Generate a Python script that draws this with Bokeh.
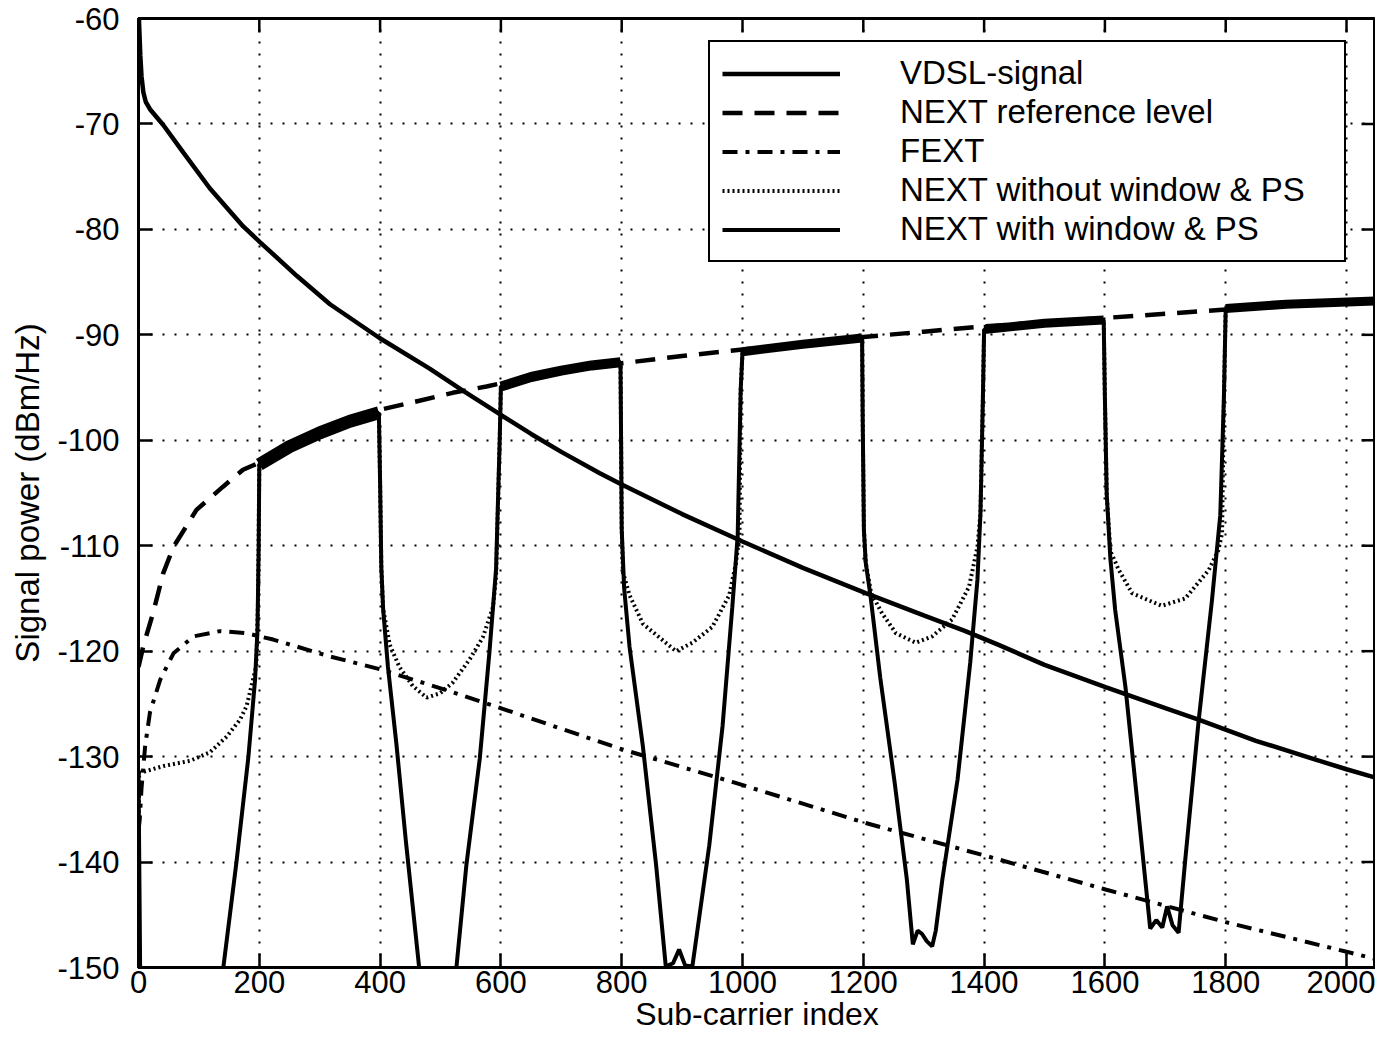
import math
from bokeh.plotting import figure
from bokeh.models import Range1d, FixedTicker, Legend, LegendItem
from bokeh.embed import file_html
from bokeh.resources import INLINE

# ---------------- data ----------------
subcarrier_ticks = list(range(0, 2001, 200))
power_ticks = list(range(-150, -59, 10))

vdsl_idx = [0, 1, 3, 5, 8, 12, 19, 41, 74, 118, 173, 201, 262, 317, 399, 482, 537, 600,
            650, 700, 763, 800, 900, 1000, 1100, 1204, 1300, 1369, 1424, 1500, 1601,
            1700, 1755, 1850, 1950, 2000, 2048]
vdsl_dbm = [-58.0, -60.5, -63.5, -65.5, -67.0, -67.9, -68.6, -70.1, -72.7, -76.1, -79.7,
            -81.2, -84.4, -87.1, -90.3, -93.2, -95.3, -97.6, -99.4, -101.1, -103.1, -104.2,
            -107.0, -109.6, -112.1, -114.5, -116.6, -118.1, -119.4, -121.3, -123.4, -125.4,
            -126.5, -128.5, -130.3, -131.2, -132.0]

ref_idx = [0, 8, 24, 41, 58, 96, 140, 173, 201, 250, 300, 350, 400, 465, 520, 576, 600,
           700, 800, 900, 1000, 1100, 1200, 1300, 1400, 1500, 1600, 1700, 1800, 1900, 2048]
ref_dbm = [-121.5, -119.5, -116.4, -112.6, -110.1, -106.6, -104.4, -102.8, -102.1, -100.6,
           -99.4, -98.3, -97.1, -96.25, -95.5, -94.9, -94.6, -93.5, -92.7, -92.0, -91.4,
           -90.8, -90.2, -89.7, -89.2, -88.8, -88.4, -88.0, -87.6, -87.2, -86.8]

fext_idx = [0, 2, 5, 11, 19, 36, 58, 91, 135, 179, 223, 317, 399, 510, 620, 800, 983,
            1204, 1402, 1601, 1800, 2000, 2048]
fext_dbm = [-137.0, -136.0, -133.0, -129.0, -125.8, -122.7, -120.2, -118.6, -118.1, -118.3,
            -118.9, -120.5, -121.7, -123.7, -125.8, -129.3, -132.4, -136.3, -139.4, -142.6,
            -145.7, -148.5, -149.2]

next_nowin_idx = [0, 1, 5, 41, 85, 118, 146, 168, 179, 187, 195, 198, 200,
                  250, 300, 350, 398,
                  400, 402, 405, 416, 432, 454, 477, 499, 520, 548, 570, 587, 592, 598, 600,
                  650, 700, 750, 798,
                  799, 800, 802, 813, 835, 873, 890, 917, 950, 978, 989, 995, 997, 1000,
                  1100, 1198,
                  1199, 1201, 1204, 1213, 1231, 1254, 1287, 1314, 1347, 1375, 1389, 1394, 1398, 1400,
                  1500, 1598,
                  1600, 1603, 1609, 1623, 1645, 1694, 1733, 1772, 1788, 1794, 1797, 1800,
                  1900, 2048]
next_nowin_dbm = [-150.0, -131.5, -131.5, -130.9, -130.4, -129.6, -128.1, -126.5, -125.2, -123.3, -121.4, -115.0, -102.3,
                  -100.6, -99.3, -98.2, -97.4,
                  -104.0, -112.0, -116.0, -119.4, -121.5, -123.3, -124.4, -124.0, -123.0, -120.8, -118.7, -115.8, -112.9, -100.0, -94.9,
                  -94.0, -93.4, -92.9, -92.6,
                  -100.0, -108.4, -112.5, -114.7, -117.4, -119.2, -120.0, -119.2, -117.7, -114.7, -111.7, -109.0, -95.2, -91.6,
                  -90.9, -90.3,
                  -98.0, -108.5, -111.6, -114.5, -116.4, -118.3, -119.2, -118.6, -117.0, -113.9, -110.1, -106.9, -96.0, -89.5,
                  -88.9, -88.6,
                  -96.0, -105.1, -110.5, -112.3, -114.5, -115.7, -115.0, -112.3, -110.4, -108.8, -96.0, -87.5,
                  -87.1, -86.8]

next_win_idx = [0, 2, 4, 100, 130, 140, 162, 182, 193, 197, 199, 200,
                250, 300, 350, 398,
                400, 402, 405, 413, 427, 443, 465, 495,
                526, 543, 565, 581, 592, 598, 600,
                650, 700, 750, 798,
                799, 800, 804, 813, 835, 857, 873, 885, 895, 905, 917, 945, 967, 983, 992, 997, 1000,
                1100, 1198,
                1199, 1201, 1204, 1212, 1228, 1252, 1272, 1282, 1290, 1297, 1305, 1314, 1320, 1331, 1356, 1377, 1389, 1394, 1398, 1400,
                1500, 1598,
                1600, 1603, 1609, 1617, 1634, 1656, 1675, 1685, 1695, 1703, 1712, 1722, 1733, 1755, 1777, 1791, 1797, 1800,
                1900, 2048]
next_win_dbm = [-131.5, -145.0, -160.0, -165.0, -155.0, -150.2, -140.1, -130.0, -122.7, -118.0, -110.0, -102.3,
                -100.6, -99.3, -98.2, -97.4,
                -104.0, -112.0, -116.0, -121.5, -128.8, -138.2, -150.2, -162.0,
                -150.2, -140.2, -130.2, -120.1, -112.2, -100.0, -94.9,
                -94.0, -93.4, -92.9, -92.6,
                -100.0, -108.4, -114.0, -119.6, -129.0, -140.3, -149.9, -149.6, -148.3, -149.8, -149.9, -138.4, -127.1, -115.9, -109.1, -95.2, -91.6,
                -90.9, -90.3,
                -98.0, -108.5, -111.6, -114.8, -122.5, -132.5, -141.6, -147.8, -146.5, -146.8, -147.5, -148.0, -146.5, -141.6, -132.2, -121.1, -113.2, -106.9, -96.0, -89.5,
                -88.9, -88.6,
                -96.0, -105.1, -111.2, -116.1, -123.4, -135.6, -146.3, -145.5, -146.2, -144.2, -146.0, -146.7, -139.8, -126.7, -115.3, -107.1, -96.0, -87.5,
                -87.1, -86.8]

# sub-carrier bands (inclusive) where the crosstalk sits at its full, noisy level
active_bands = [(200, 398), (600, 798), (1000, 1198), (1400, 1598), (1800, 2048)]

legend_labels = ["VDSL-signal", "NEXT reference level", "FEXT",
                 "NEXT without window & PS", "NEXT with window & PS"]

# ---------------- figure ----------------
FONT = "Liberation Sans"
X_MAX, Y_MIN, Y_MAX = 2048, -150, -60

p = figure(width=1375, height=1035, x_range=Range1d(0, X_MAX), y_range=Range1d(Y_MIN, Y_MAX),
           output_backend="svg", toolbar_location=None,
           min_border_left=138, min_border_right=0, min_border_top=18, min_border_bottom=68,
           x_axis_label="Sub-carrier index", y_axis_label="Signal power (dBm/Hz)")
p.background_fill_color = "white"
p.border_fill_color = "white"
p.outline_line_color = "black"
p.outline_line_width = 3

for ax in (p.xaxis[0], p.yaxis[0]):
    ax.major_tick_in = 14
    ax.major_tick_out = 0
    ax.major_tick_line_width = 2.5
    ax.major_tick_line_color = "black"
    ax.minor_tick_line_color = None
    ax.axis_line_width = 3
    ax.axis_line_color = "black"
    ax.major_label_text_font = FONT
    ax.major_label_text_color = "black"
    ax.axis_label_text_font = FONT
    ax.axis_label_text_font_style = "normal"
    ax.axis_label_text_color = "black"

p.xaxis[0].ticker = FixedTicker(ticks=subcarrier_ticks)
p.yaxis[0].ticker = FixedTicker(ticks=power_ticks)
p.xaxis[0].major_label_text_font_size = "31px"
p.yaxis[0].major_label_text_font_size = "31px"
p.xaxis[0].axis_label_text_font_size = "32px"
p.yaxis[0].axis_label_text_font_size = "33px"
p.yaxis[0].major_label_overrides = {t: str(t) for t in power_ticks}
p.xaxis[0].major_label_standoff = 3
p.xaxis[0].axis_label_standoff = 0
p.yaxis[0].major_label_standoff = 19
p.yaxis[0].axis_label_standoff = 8

for g, ticks in ((p.xgrid[0], subcarrier_ticks), (p.ygrid[0], power_ticks)):
    g.ticker = FixedTicker(ticks=ticks)
    g.grid_line_color = "black"
    g.grid_line_dash = "2 10"
    g.grid_line_width = 2

# mirrored inward ticks on the top and right frame edges
p.ray(x=subcarrier_ticks, y=[Y_MAX] * len(subcarrier_ticks), length=14, length_units="screen",
      angle=-math.pi / 2, line_color="black", line_width=2.5)
p.ray(x=[X_MAX] * len(power_ticks), y=power_ticks, length=14, length_units="screen",
      angle=math.pi, line_color="black", line_width=2.5)

# ---------------- series ----------------
r_nowin = p.line(next_nowin_idx, next_nowin_dbm, line_color="black", line_width=4,
                 line_dash="2 3")
r_win = p.line(next_win_idx, next_win_dbm, line_color="black", line_width=4)

# noisy active-band plateau drawn as a thick band (first band is the noisiest)
band_xs, band_ys = [], []
for lo, hi in active_bands:
    band_xs.append([x for x in next_win_idx if lo <= x <= hi])
    band_ys.append([y for x, y in zip(next_win_idx, next_win_dbm) if lo <= x <= hi])
band_widths = [13, 10, 9, 9, 9]
p.multi_line(xs=band_xs, ys=band_ys, line_color="black", line_width=band_widths)

r_ref = p.line(ref_idx, ref_dbm, line_color="black", line_width=4.5, line_dash="20 12")
r_fext = p.line(fext_idx, fext_dbm, line_color="black", line_width=4,
                line_dash="15 8 4 8")
r_vdsl = p.line(vdsl_idx, vdsl_dbm, line_color="black", line_width=4.5)

legend = Legend(items=[LegendItem(label=lab, renderers=[r]) for lab, r in
                       zip(legend_labels, [r_vdsl, r_ref, r_fext, r_nowin, r_win])],
                location=(570, 705), label_text_font=FONT, label_text_font_size="33px",
                label_text_color="black",
                glyph_width=118, glyph_height=37, label_height=37, label_width=432,
                label_standoff=60, padding=12, spacing=1, margin=0,
                border_line_color="black", border_line_width=2.5, border_line_alpha=1.0,
                background_fill_color="white", background_fill_alpha=1.0)
p.add_layout(legend)

open("out.html", "w").write(file_html(p, INLINE))
